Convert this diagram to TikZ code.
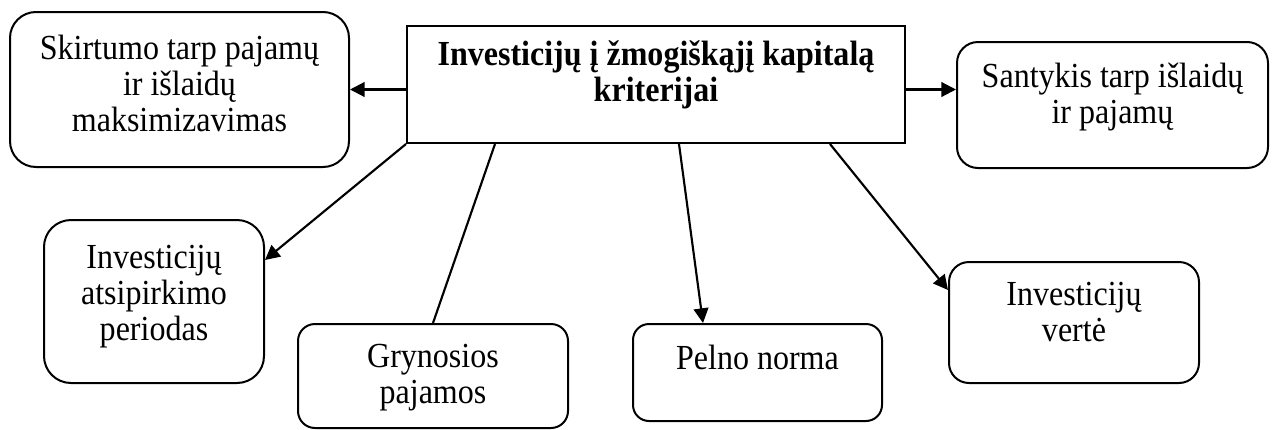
\documentclass[tikz,border=0pt]{standalone}
\usepackage{fontspec}
\setmainfont{Liberation Serif}
\newfontfamily\critfont[FakeStretch=0.91]{Liberation Serif}
\usetikzlibrary{arrows.meta,calc}

% box of fixed size, text hung from the top
\newcommand{\critbox}[4]{\parbox[c][#2][t]{#1}{\centering\rule{0pt}{#3}#4}}

\begin{document}
\begin{tikzpicture}[x=0.75pt,y=0.75pt,yscale=-1,xscale=1,
    crit/.style={draw, line width=1.5pt, inner sep=0pt, rounded corners=#1,
      font=\critfont\fontsize{26.4}{27}\selectfont},
    crit/.default=15pt,
    conn/.style={line width=1.6pt},
    arr/.style={conn, -{Triangle[length=11pt,width=11pt]}}]
    \useasboundingbox (0,0) rectangle (1272,429);

    %Shape: Rectangle
    \node [crit=0pt] (central) at (656,84.5)
      {\critbox{373.5pt}{87.75pt}{29.25pt}{\bfseries Investicijų į žmogiškąjį kapitalą\\ kriterijai}};
    %Shape: Rounded Rect
    \node [crit=19.5pt] (skirt) at (179.5,89.5)
      {\critbox{254.25pt}{116.25pt}{35.25pt}{Skirtumo tarp pajamų\\ ir išlaidų\\ maksimizavimas}};
    %Shape: Rounded Rect
    \node [crit=15.75pt] (sant) at (1112.5,105)
      {\critbox{233.25pt}{94.5pt}{33.75pt}{Santykis tarp išlaidų\\ ir pajamų}};
    %Shape: Rounded Rect
    \node [crit=20.25pt] (atsip) at (154,301.5)
      {\critbox{165pt}{122.25pt}{36pt}{Investicijų\\ atsipirkimo\\ periodas}};
    %Shape: Rounded Rect
    \node [crit=12.75pt] (gryn) at (433,376)
      {\critbox{202.5pt}{78pt}{32.25pt}{Grynosios\\ pajamos}};
    %Shape: Rounded Rect
    \node [crit=12pt] (pelno) at (757.5,372.5)
      {\critbox{186.75pt}{72.75pt}{33.75pt}{Pelno norma}};
    %Shape: Rounded Rect
    \node [crit=15pt] (verte) at (1074,322.5)
      {\critbox{187.5pt}{90.75pt}{32.25pt}{Investicijų\\ vertė}};

    %Straight Lines
    \draw [arr] (central.west |- skirt.east) -- (skirt.east);
    %Straight Lines
    \draw [arr] (central.east |- skirt.east) -- (sant.west |- skirt.east);
    %Straight Lines
    \draw [arr] (central.south west) -- ($(atsip.east)+(0,-41.5)$);
    %Straight Lines
    \draw [conn] ($(central.south west)+(89,0)$) -- (gryn.north);
    %Straight Lines
    \draw [arr] ($(central.south west)+(273,0)$) -- ($(pelno.north)+(-54.5,0)$);
    %Straight Lines
    \draw [arr] ($(central.south east)+(-76,0)$) -- ($(verte.west)+(0,-32.5)$);
\end{tikzpicture}
\end{document}
